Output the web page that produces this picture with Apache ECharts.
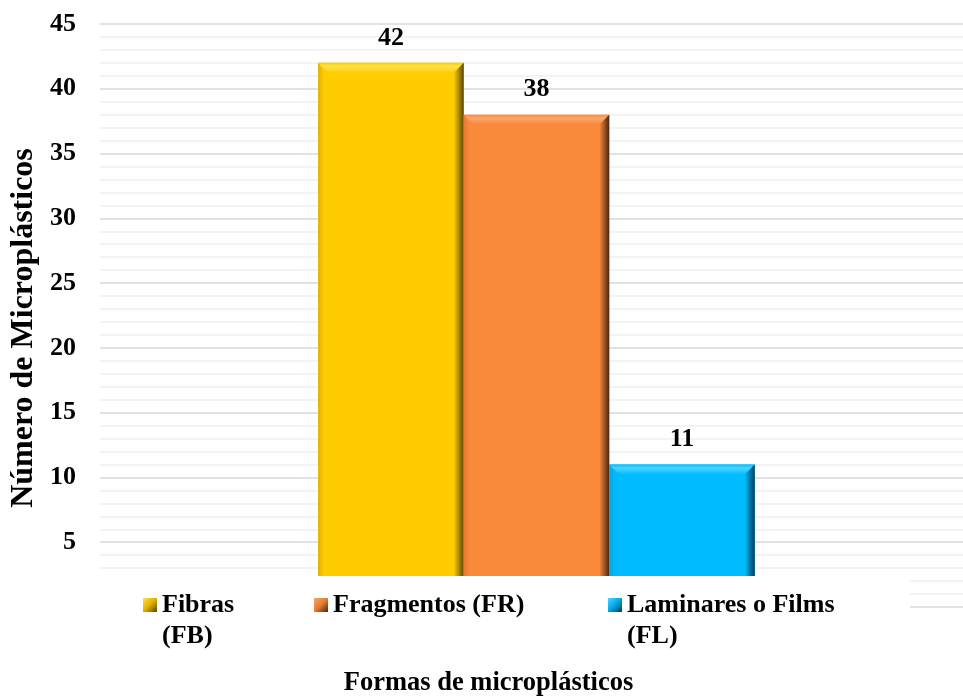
<!DOCTYPE html>
<html>
<head>
<meta charset="utf-8">
<script src="https://cdn.jsdelivr.net/npm/echarts@6/dist/echarts.min.js"></script>
<style>
  html, body { margin: 0; padding: 0; background: #fff; }
  #chart { width: 963px; height: 699px; }
</style>
</head>
<body>
<div id="chart"></div>
<script>
// Shapes of microplastics and how many of each were counted
const categories = ['Formas de microplásticos'];
const seriesNames = ['Fibras (FB)', 'Fragmentos (FR)', 'Laminares o Films (FL)'];
// a leading blank line keeps the first text line level with the legend swatch
const legendLabels = ['\nFibras\n(FB)', 'Fragmentos (FR)', '\nLaminares o Films\n(FL)'];
const counts = [42, 38, 11];
const yTicks = [0, 5, 10, 15, 20, 25, 30, 35, 40, 45];

const FONT = "'Liberation Serif', 'Times New Roman', serif";

// face, top bevel (light), left edge, right edge (dark)
const palettes = [
  { face: '#FFCC00', light: '#FFE34D', left: '#E0AE00', dark: '#5C4700' },
  { face: '#F98A3C', light: '#FBA76A', left: '#E57A30', dark: '#4A2510' },
  { face: '#00BBFF', light: '#4DD4FF', left: '#00A6E6', dark: '#003E55' }
];

const GROUP_RATIO = 0.5;   // share of the category band used by the bar group
const BEVEL = 10;

function bevelBar(idx) {
  const p = palettes[idx];
  return function (params, api) {
    const v = api.value(1);
    const base = api.coord([api.value(0), 0]);
    const topPt = api.coord([api.value(0), v]);
    const band = api.size([1, 0])[0];
    const groupW = band * GROUP_RATIO;
    const w = groupW / seriesNames.length;
    const x = base[0] - groupW / 2 + idx * w;
    const y = topPt[1];
    const h = base[1] - topPt[1];
    const b = BEVEL;
    return {
      type: 'group',
      children: [
        { type: 'rect', shape: { x: x, y: y, width: w, height: h }, style: { fill: p.face } },
        {
          type: 'polygon',
          shape: { points: [[x, y], [x + w, y], [x + w - b, y + b], [x + b, y + b]] },
          style: {
            fill: new echarts.graphic.LinearGradient(0, 0, 0, 1, [
              { offset: 0, color: p.face }, { offset: 0.35, color: p.light }, { offset: 1, color: p.face }
            ])
          }
        },
        {
          type: 'polygon',
          shape: { points: [[x, y], [x + b * 0.6, y + b], [x + b * 0.6, y + h], [x, y + h]] },
          style: {
            fill: new echarts.graphic.LinearGradient(0, 0, 1, 0, [
              { offset: 0, color: p.left }, { offset: 1, color: p.face }
            ])
          }
        },
        {
          type: 'polygon',
          shape: { points: [[x + w, y], [x + w, y + h], [x + w - b, y + h], [x + w - b, y + b]] },
          style: {
            fill: new echarts.graphic.LinearGradient(0, 0, 1, 0, [
              { offset: 0, color: p.face }, { offset: 1, color: p.dark }
            ])
          }
        },
        {
          type: 'text',
          style: {
            x: x + w / 2, y: y - 25,
            text: String(v),
            align: 'center', verticalAlign: 'middle',
            font: 'bold 26px ' + FONT, fill: '#000'
          }
        }
      ]
    };
  };
}

const legendLefts = [143, 314, 608];
const SWATCH_Y = 605;   // vertical centre of the legend swatches
const LINE_H = 31;
const legends = seriesNames.map((name, i) => {
  const lines = legendLabels[i].split('\n').length;
  return {
    data: [name],
    left: legendLefts[i],
    top: SWATCH_Y - (lines * LINE_H) / 2,
    padding: 0,
    selectedMode: false,
    icon: 'rect',
    itemWidth: 14,
    itemHeight: 14,
    itemGap: 0,
    z: 10,
    itemStyle: {
      color: new echarts.graphic.LinearGradient(0, 0, 1, 1, [
        { offset: 0, color: palettes[i].light }, { offset: 0.5, color: palettes[i].left }, { offset: 1, color: palettes[i].dark }
      ])
    },
    formatter: () => legendLabels[i],
    textStyle: {
      fontFamily: FONT, fontWeight: 'bold', fontSize: 26, color: '#000',
      lineHeight: LINE_H
    }
  };
});

const chart = echarts.init(document.getElementById('chart'), null, { renderer: 'canvas' });
chart.setOption({
  animation: false,
  backgroundColor: '#fff',
  grid: { left: 100, right: -10, top: 24, bottom: 92, containLabel: false, outerBoundsMode: 'none' },
  legend: legends,
  xAxis: {
    type: 'category',
    data: categories,
    name: categories[0],
    nameLocation: 'middle',
    nameGap: 63,
    nameMoveOverlap: false,
    nameTextStyle: { fontFamily: FONT, fontWeight: 'bold', fontSize: 26.5, color: '#000', padding: [0, 96, 0, 0] },
    axisLine: { show: false },
    axisTick: { show: false },
    axisLabel: { show: false },
    splitLine: { show: false }
  },
  yAxis: {
    type: 'value',
    min: yTicks[0],
    max: yTicks[yTicks.length - 1],
    interval: yTicks[1] - yTicks[0],
    name: 'Número de Microplásticos',
    nameLocation: 'middle',
    nameGap: 60,
    nameMoveOverlap: false,
    nameTextStyle: { fontFamily: FONT, fontWeight: 'bold', fontSize: 32, color: '#000', padding: [0, 25, 0, 0] },
    axisLine: { show: false },
    axisTick: { show: false },
    axisLabel: { fontFamily: FONT, fontWeight: 'bold', fontSize: 26, color: '#000', margin: 24 },
    splitLine: { show: true, lineStyle: { color: '#d9d9d9', width: 1.5 } },
    minorTick: { show: false, splitNumber: 5 },
    minorSplitLine: { show: true, lineStyle: { color: '#efefef', width: 1.5 } }
  },
  graphic: [
    {
      // white panel behind the legend row
      type: 'rect',
      shape: { x: 64, y: 576, width: 846, height: 40 },
      style: { fill: '#fff' },
      z: 5
    }
  ],
  series: seriesNames.map((name, i) => ({
    type: 'custom',
    name: name,
    z: 3,
    itemStyle: { color: palettes[i].face },
    renderItem: bevelBar(i),
    encode: { x: 0, y: 1 },
    data: [[0, counts[i]]]
  }))
});
</script>
</body>
</html>
